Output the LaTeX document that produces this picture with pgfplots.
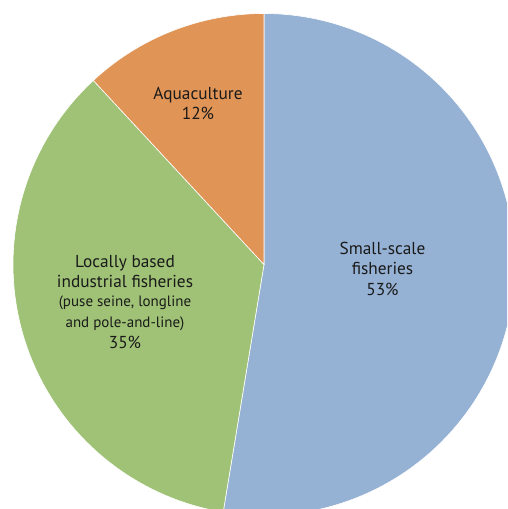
\documentclass[border=0pt]{standalone}
\usepackage{fontspec}
\setmainfont{PT Sans}
\usepackage{pgfplots}
\pgfplotsset{compat=1.18}
\definecolor{cblue}{HTML}{95B1D3}
\definecolor{cgreen}{HTML}{9FC276}
\definecolor{corange}{HTML}{E09456}
\definecolor{ctext}{HTML}{1A1A1A}
\begin{document}
\begin{tikzpicture}
% shares in percent (Small-scale, Locally based industrial, Aquaculture)
\pgfmathsetmacro{\pA}{52.6}
\pgfmathsetmacro{\pB}{35.5}
\pgfmathsetmacro{\pC}{11.9}
\pgfmathsetmacro{\aA}{90-3.6*\pA}
\pgfmathsetmacro{\aB}{\aA-3.6*\pB}
\pgfmathsetmacro{\aC}{\aB+360}
\begin{axis}[scale only axis, width=507pt, height=509pt,
  xmin=0, xmax=507, ymin=-509, ymax=0, hide axis, clip=true]
\addplot[fill=cblue, draw=white, line width=0.6pt, domain=\aA:90, samples=181, variable=\t]
  ({264+251*cos(\t)},{-264.5+251*sin(\t)}) -- (axis cs:264,-264.5) -- cycle;
\addplot[fill=cgreen, draw=white, line width=0.6pt, domain=\aB:\aA, samples=121, variable=\t]
  ({264+251*cos(\t)},{-264.5+251*sin(\t)}) -- (axis cs:264,-264.5) -- cycle;
\addplot[fill=corange, draw=white, line width=0.6pt, domain=90:\aC, samples=41, variable=\t]
  ({264+251*cos(\t)},{-264.5+251*sin(\t)}) -- (axis cs:264,-264.5) -- cycle;
\begin{scope}[every node/.style={anchor=base, text=ctext, inner sep=0pt, font=\fontsize{17.3}{20}\selectfont}]
\node at (axis cs:198,-99.3) {Aquaculture};
\node at (axis cs:198,-120) {12\%};
\node at (axis cs:382.5,-254.3) {Small-scale};
\node at (axis cs:382.5,-275) {fisheries};
\node at (axis cs:382.5,-295.5) {53\%};
\node at (axis cs:125,-267.3) {Locally based};
\node at (axis cs:125,-287.7) {industrial fisheries};
\node[font=\fontsize{15}{18}\selectfont] at (axis cs:125,-306.7) {(puse seine, longline};
\node[font=\fontsize{15}{18}\selectfont] at (axis cs:125,-327.3) {and pole-and-line)};
\node at (axis cs:125,-348.3) {35\%};
\end{scope}
\end{axis}
\pgfresetboundingbox
\useasboundingbox (0,0) rectangle (507pt,509pt);
\end{tikzpicture}
\end{document}
